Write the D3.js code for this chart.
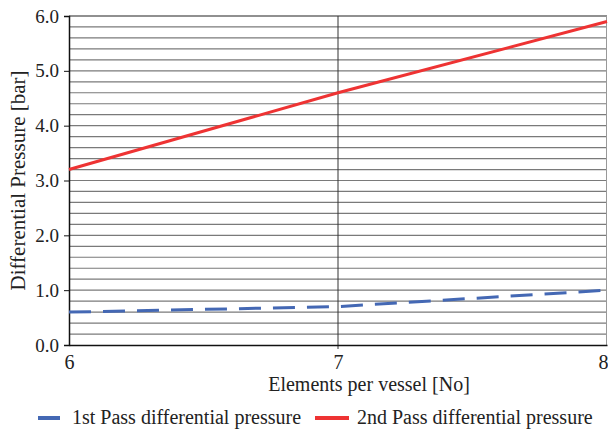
<!DOCTYPE html>
<html>
<head>
<meta charset="utf-8">
<script src="https://cdn.jsdelivr.net/npm/d3@7"></script>
<style>
  body { margin: 0; background: #fff; }
</style>
</head>
<body>
<div class="chart"></div>
<script>
let elements = [6, 7, 8];
let pass1 = [0.6, 0.7, 1.0];
let pass2 = [3.2, 4.6, 5.9];
let yTicks = [0, 1, 2, 3, 4, 5, 6];
let seriesNames = ["1st Pass differential pressure", "2nd Pass differential pressure"];

let w = 608;
let h = 430;
let margin = {left: 69, right: 1, top: 16, bottom: 85};
let serif = "'Liberation Serif', 'Times New Roman', serif";

let svg = d3.select(".chart")
    .append("svg")
    .attr("width", w)
    .attr("height", h);

let x = d3.scaleLinear().domain([6, 8]).range([margin.left, w - margin.right]);
let y = d3.scaleLinear().domain([0, 6]).range([h - margin.bottom, margin.top]);

// minor horizontal grid every 0.2
let minor = d3.range(1, 30).map(function(i) { return i * 0.2; });
svg.append("g")
    .selectAll("line")
    .data(minor)
    .enter().append("line")
    .attr("x1", x(6)).attr("x2", x(8))
    .attr("y1", function(d) { return y(d); })
    .attr("y2", function(d) { return y(d); })
    .attr("stroke", "#7a7a7a")
    .attr("stroke-width", 1.2);

// top border and right border, vertical line at 7
svg.append("line")
    .attr("x1", x(6)).attr("x2", x(8))
    .attr("y1", y(6)).attr("y2", y(6))
    .attr("stroke", "#222").attr("stroke-width", 1.2);
svg.append("line")
    .attr("x1", x(8) - 0.5).attr("x2", x(8) - 0.5)
    .attr("y1", y(6)).attr("y2", y(0))
    .attr("stroke", "#999").attr("stroke-width", 1);
svg.append("line")
    .attr("x1", x(7)).attr("x2", x(7))
    .attr("y1", y(6)).attr("y2", y(0) + 4)
    .attr("stroke", "#333").attr("stroke-width", 1);

// axes
let yAxis = d3.axisLeft(y).tickValues(yTicks).tickSize(5).tickPadding(5)
    .tickFormat(d3.format(".1f"));
let gy = svg.append("g").attr("transform", "translate(" + margin.left + ",0)").call(yAxis);
gy.select(".domain").attr("stroke", "#111").attr("stroke-width", 1.5);
gy.selectAll(".tick line").attr("stroke", "#111");
gy.selectAll("text")
    .style("font-family", serif)
    .style("font-size", "19px")
    .attr("fill", "#222");

let xAxis = d3.axisBottom(x).tickValues(elements).tickSize(0).tickPadding(10)
    .tickFormat(d3.format("d"));
let gx = svg.append("g").attr("transform", "translate(0," + y(0) + ")").call(xAxis);
gx.select(".domain").attr("stroke", "#111").attr("stroke-width", 1.5);
gx.selectAll("text")
    .style("font-family", serif)
    .style("font-size", "20px")
    .attr("fill", "#222");
gx.selectAll(".tick").filter(function(d) { return d == 8; })
    .select("text").attr("text-anchor", "end").attr("dx", "1");

// lines
let line1 = d3.line()
    .x(function(d, i) { return x(elements[i]); })
    .y(function(d) { return y(d); });

svg.append("path")
    .datum(pass1)
    .attr("d", line1)
    .attr("fill", "none")
    .attr("stroke", "#4468b4")
    .attr("stroke-width", 3)
    .attr("stroke-dasharray", "22,12");

svg.append("path")
    .datum(pass2)
    .attr("d", line1)
    .attr("fill", "none")
    .attr("stroke", "#ee3333")
    .attr("stroke-width", 3);

// titles
svg.append("text")
    .attr("x", 369)
    .attr("y", 391)
    .attr("text-anchor", "middle")
    .style("font-family", serif)
    .style("font-size", "20px")
    .attr("fill", "#222")
    .text("Elements per vessel [No]");

svg.append("text")
    .attr("transform", "translate(25," + ((y(0) + y(6)) / 2) + ") rotate(-90)")
    .attr("text-anchor", "middle")
    .style("font-family", serif)
    .style("font-size", "21px")
    .attr("fill", "#222")
    .text("Differential Pressure [bar]");

// legend
let legend = [
    {name: seriesNames[0], color: "#4468b4", x1: 38, x2: 60, tx: 72},
    {name: seriesNames[1], color: "#ee3333", x1: 315, x2: 349, tx: 357}
];
let lg = svg.append("g").selectAll("g").data(legend).enter().append("g");
lg.append("line")
    .attr("x1", function(d) { return d.x1; })
    .attr("x2", function(d) { return d.x2; })
    .attr("y1", 418).attr("y2", 418)
    .attr("stroke", function(d) { return d.color; })
    .attr("stroke-width", 4);
lg.append("text")
    .attr("x", function(d) { return d.tx; })
    .attr("y", 424)
    .style("font-family", serif)
    .style("font-size", "20px")
    .attr("fill", "#222")
    .text(function(d) { return d.name; });
</script>
</body>
</html>
